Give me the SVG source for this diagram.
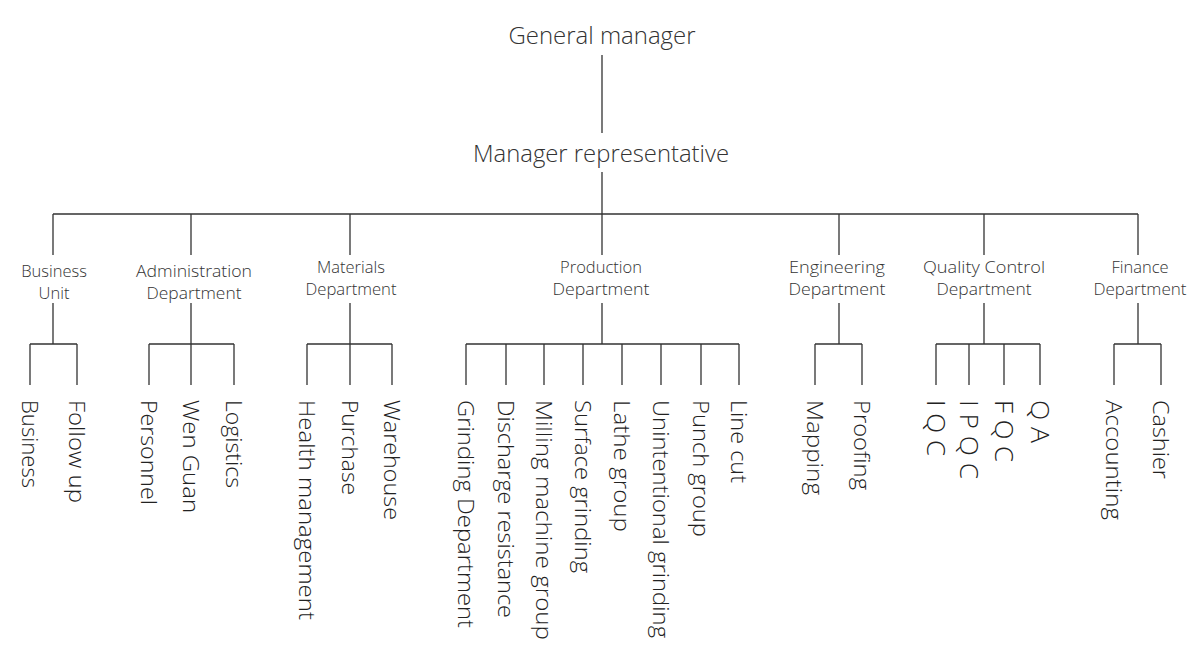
<svg xmlns="http://www.w3.org/2000/svg" width="1200" height="652" viewBox="0 0 1200 652">
<style>
text{font-family:"Open Sans","Segoe UI","Liberation Sans",sans-serif;font-weight:300;fill:#333}
.t{font-size:24px;text-anchor:middle}
.d{font-size:16.5px;text-anchor:middle}
.c{font-size:22px;fill:#222}
.q{font-size:26px}
#connectors path{fill:none;stroke:#333;stroke-width:1.3}
</style>
<rect width="1200" height="652" fill="#fff"/>
<g id="connectors">
<path d="M602 55V133M602 172V214M53 214H1138"/>
<path d="M53 214V255M191 214V255M350 214V255M602 214V255M839 214V255M984 214V255M1138 214V255"/>
<path d="M53 303V344M30 344H77M30 344V385M77 344V385"/>
<path d="M191 303V344M149 344H234M149 344V385M191 344V385M234 344V385"/>
<path d="M350 303V344M307 344H392M307 344V385M350 344V385M392 344V385"/>
<path d="M602 303V344M466 344H739M466 344V385M506 344V385M544 344V385M583 344V385M622 344V385M661 344V385M701 344V385M739 344V385"/>
<path d="M839 303V344M815 344H862M815 344V385M862 344V385"/>
<path d="M984 303V344M936 344H1040M936 344V385M969 344V385M1004 344V385M1040 344V385"/>
<path d="M1138 303V344M1114 344H1161M1114 344V385M1161 344V385"/>
</g>
<g id="general-manager"><text class="t" x="602" y="44" textLength="187" lengthAdjust="spacingAndGlyphs">General manager</text></g>
<g id="manager-representative"><text class="t" x="601" y="162" textLength="256" lengthAdjust="spacingAndGlyphs">Manager representative</text></g>
<g id="business-unit"><text class="d" x="54" y="277">Business</text><text class="d" x="54" y="299">Unit</text></g>
<g id="administration-department"><text class="d" x="194" y="277" textLength="116" lengthAdjust="spacingAndGlyphs">Administration</text><text class="d" x="194" y="299" textLength="95" lengthAdjust="spacingAndGlyphs">Department</text></g>
<g id="materials-department"><text class="d" x="351" y="273">Materials</text><text class="d" x="351" y="295" textLength="91" lengthAdjust="spacingAndGlyphs">Department</text></g>
<g id="production-department"><text class="d" x="601" y="273">Production</text><text class="d" x="601" y="295" textLength="97" lengthAdjust="spacingAndGlyphs">Department</text></g>
<g id="engineering-department"><text class="d" x="837" y="273" textLength="96" lengthAdjust="spacingAndGlyphs">Engineering</text><text class="d" x="837" y="295" textLength="97" lengthAdjust="spacingAndGlyphs">Department</text></g>
<g id="quality-control-department"><text class="d" x="984" y="273" textLength="122" lengthAdjust="spacingAndGlyphs">Quality Control</text><text class="d" x="984" y="295" textLength="95" lengthAdjust="spacingAndGlyphs">Department</text></g>
<g id="finance-department"><text class="d" x="1140" y="273">Finance</text><text class="d" x="1140" y="295" textLength="93" lengthAdjust="spacingAndGlyphs">Department</text></g>
<g id="business"><text class="c" transform="translate(30,400) rotate(90)" y="8" textLength="88" lengthAdjust="spacingAndGlyphs">Business</text></g>
<g id="follow-up"><text class="c" transform="translate(77,400) rotate(90)" y="8" textLength="103" lengthAdjust="spacingAndGlyphs">Follow up</text></g>
<g id="personnel"><text class="c" transform="translate(149,400) rotate(90)" y="8" textLength="105" lengthAdjust="spacingAndGlyphs">Personnel</text></g>
<g id="wen-guan"><text class="c" transform="translate(191,400) rotate(90)" y="8" textLength="113" lengthAdjust="spacingAndGlyphs">Wen Guan</text></g>
<g id="logistics"><text class="c" transform="translate(234,400) rotate(90)" y="8" textLength="88" lengthAdjust="spacingAndGlyphs">Logistics</text></g>
<g id="health-management"><text class="c" transform="translate(307,400) rotate(90)" y="8" textLength="220" lengthAdjust="spacingAndGlyphs">Health management</text></g>
<g id="purchase"><text class="c" transform="translate(350,400) rotate(90)" y="8" textLength="95" lengthAdjust="spacingAndGlyphs">Purchase</text></g>
<g id="warehouse"><text class="c" transform="translate(392,400) rotate(90)" y="8" textLength="120" lengthAdjust="spacingAndGlyphs">Warehouse</text></g>
<g id="grinding-department"><text class="c" transform="translate(466,400) rotate(90)" y="8" textLength="228" lengthAdjust="spacingAndGlyphs">Grinding Department</text></g>
<g id="discharge-resistance"><text class="c" transform="translate(506,400) rotate(90)" y="8" textLength="218" lengthAdjust="spacingAndGlyphs">Discharge resistance</text></g>
<g id="milling-machine-group"><text class="c" transform="translate(544,400) rotate(90)" y="8" textLength="240" lengthAdjust="spacingAndGlyphs">Milling machine group</text></g>
<g id="surface-grinding"><text class="c" transform="translate(583,400) rotate(90)" y="8" textLength="173" lengthAdjust="spacingAndGlyphs">Surface grinding</text></g>
<g id="lathe-group"><text class="c" transform="translate(622,400) rotate(90)" y="8" textLength="132" lengthAdjust="spacingAndGlyphs">Lathe group</text></g>
<g id="unintentional-grinding"><text class="c" transform="translate(661,400) rotate(90)" y="8" textLength="238" lengthAdjust="spacingAndGlyphs">Unintentional grinding</text></g>
<g id="punch-group"><text class="c" transform="translate(701,400) rotate(90)" y="8" textLength="137" lengthAdjust="spacingAndGlyphs">Punch group</text></g>
<g id="line-cut"><text class="c" transform="translate(739,400) rotate(90)" y="8" textLength="83" lengthAdjust="spacingAndGlyphs">Line cut</text></g>
<g id="mapping"><text class="c" transform="translate(815,400) rotate(90)" y="8" textLength="95" lengthAdjust="spacingAndGlyphs">Mapping</text></g>
<g id="proofing"><text class="c" transform="translate(862,400) rotate(90)" y="8" textLength="90" lengthAdjust="spacingAndGlyphs">Proofing</text></g>
<g id="iqc"><text class="c q" transform="translate(936,400) rotate(90)" y="9" textLength="56" lengthAdjust="spacingAndGlyphs">I Q C</text></g>
<g id="ipqc"><text class="c q" transform="translate(969,400) rotate(90)" y="9" textLength="79" lengthAdjust="spacingAndGlyphs">I P Q C</text></g>
<g id="fqc"><text class="c q" transform="translate(1004,400) rotate(90)" y="9" textLength="62" lengthAdjust="spacingAndGlyphs">F Q C</text></g>
<g id="qa"><text class="c q" transform="translate(1040,400) rotate(90)" y="9" textLength="43" lengthAdjust="spacingAndGlyphs">Q A</text></g>
<g id="accounting"><text class="c" transform="translate(1114,400) rotate(90)" y="8" textLength="120" lengthAdjust="spacingAndGlyphs">Accounting</text></g>
<g id="cashier"><text class="c" transform="translate(1161,400) rotate(90)" y="8" textLength="79" lengthAdjust="spacingAndGlyphs">Cashier</text></g>
</svg>
